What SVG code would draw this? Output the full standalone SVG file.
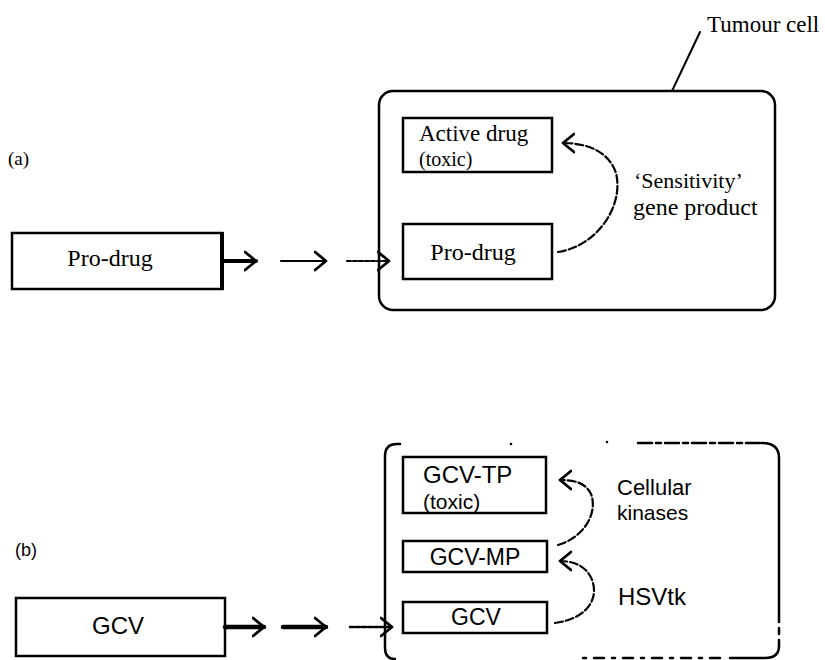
<svg xmlns="http://www.w3.org/2000/svg" width="825" height="660" viewBox="0 0 825 660">
<style>
.box{fill:none;stroke:#000;stroke-width:2.5}
.serif{font-family:"Liberation Serif","Times New Roman",serif;fill:#000}
.sans{font-family:"Liberation Sans",Arial,sans-serif;fill:#000}
.ln{fill:none;stroke:#000;stroke-linecap:round;stroke-linejoin:round}
</style>
<defs>
<marker id="chev" markerUnits="userSpaceOnUse" markerWidth="16" markerHeight="24" refX="12" refY="10" orient="auto" viewBox="0 0 16 20">
<path d="M1,1 L12,10 L1,19" fill="none" stroke="#000" stroke-width="2.8" stroke-linecap="round" stroke-linejoin="round"/>
</marker>
</defs>
<rect width="825" height="660" fill="#fff"/>

<!-- panel labels -->
<text id="label-a" class="serif" x="8" y="165" font-size="19">(a)</text>
<text id="label-b" class="sans" x="15" y="556" font-size="18">(b)</text>

<!-- Panel (a) -->
<g id="tumour-cell-a">
<rect class="box" x="379" y="91" width="396" height="219" rx="14"/>
</g>
<g id="tumour-cell-label">
<text class="serif" x="707" y="32" font-size="23">Tumour cell</text>
<path class="ln" stroke-width="2" d="M700,32 L672,91"/>
</g>
<g id="prodrug-outside">
<rect class="box" x="12" y="233" width="210" height="56"/>
<line x1="222" y1="232" x2="222" y2="290" stroke="#000" stroke-width="4"/>
<text class="serif" x="110" y="266" font-size="24" text-anchor="middle">Pro-drug</text>
</g>
<g id="active-drug">
<rect class="box" x="403" y="118" width="149" height="54"/>
<text class="serif" x="419" y="141" font-size="23">Active drug</text>
<text class="serif" x="419" y="166" font-size="20">(toxic)</text>
</g>
<g id="prodrug-inside">
<rect class="box" x="403" y="224" width="149" height="55"/>
<text class="serif" x="473" y="260" font-size="24" text-anchor="middle">Pro-drug</text>
</g>
<g id="sensitivity-label">
<text class="serif" x="634" y="188" font-size="22">‘Sensitivity’</text>
<text class="serif" x="633" y="215" font-size="24">gene product</text>
</g>

<!-- Panel (b) -->
<g id="tumour-cell-b">
<path class="ln" stroke-width="2.5" d="M400,444 L397,444 Q385,444 385,456 L385,648 Q385,659 395,659"/>
<circle cx="511" cy="444" r="1.3" fill="#000"/>
<circle cx="607" cy="442" r="1.3" fill="#000"/>
<path class="ln" stroke-width="2.5" stroke-dasharray="14 4 5 4" d="M638,443 L762,443"/>
<path class="ln" stroke-width="2.5" d="M762,443 Q779,443 779,458 L779,622"/>
<path class="ln" stroke-width="2.5" stroke-dasharray="6 6" d="M779,628 L779,646"/>
<path class="ln" stroke-width="2.5" d="M779,646 Q779,658 765,658 L730,658"/>
<path class="ln" stroke-width="2.5" stroke-dasharray="10 8 3 8" d="M720,658 L580,658"/>
</g>
<g id="gcv-outside">
<rect class="box" x="16" y="598" width="209" height="58"/>
<text class="sans" x="118" y="634" font-size="24" text-anchor="middle">GCV</text>
</g>
<g id="gcv-tp">
<rect class="box" x="403" y="457" width="143" height="56"/>
<text class="sans" x="423" y="483" font-size="24">GCV-TP</text>
<text class="sans" x="423" y="509" font-size="21">(toxic)</text>
</g>
<g id="gcv-mp">
<rect class="box" x="403" y="541" width="144" height="31"/>
<text class="sans" x="475" y="565" font-size="23" text-anchor="middle">GCV-MP</text>
</g>
<g id="gcv-inside">
<rect class="box" x="403" y="602" width="144" height="31"/>
<text class="sans" x="476" y="625" font-size="23" text-anchor="middle">GCV</text>
</g>
<g id="kinases-label">
<text class="sans" x="617" y="495" font-size="22">Cellular</text>
<text class="sans" x="617" y="520" font-size="21">kinases</text>
</g>
<g id="hsvtk-label">
<text class="sans" x="618" y="605" font-size="24">HSVtk</text>
</g>

<!-- connectors -->
<g id="connectors">
<line class="ln" x1="222" y1="261" x2="256" y2="261" stroke-width="4" marker-end="url(#chev)"/>
<line class="ln" x1="281" y1="261" x2="326" y2="261" stroke-width="2.2" marker-end="url(#chev)"/>
<line class="ln" x1="347" y1="261" x2="389" y2="261" stroke-width="2.2" stroke-dasharray="4 2" marker-end="url(#chev)"/>
<path class="ln" stroke-width="2.2" stroke-dasharray="8 3" d="M558,252 C598,246 624,205 616,173 C609,152 588,143 563,143" marker-end="url(#chev)"/>
<line class="ln" x1="225" y1="627" x2="264" y2="627" stroke-width="4.5" marker-end="url(#chev)"/>
<line class="ln" x1="283" y1="627" x2="326" y2="627" stroke-width="4.5" marker-end="url(#chev)"/>
<line class="ln" x1="350" y1="627" x2="392" y2="627" stroke-width="2.5" stroke-dasharray="4 2" marker-end="url(#chev)"/>
<path class="ln" stroke-width="2.2" stroke-dasharray="8 3" d="M558,545 C585,537 598,512 591,494 C585,482 573,480 560,480" marker-end="url(#chev)"/>
<path class="ln" stroke-width="2.2" stroke-dasharray="8 3" d="M555,623 C585,619 598,601 593,583 C589,568 576,561 560,561" marker-end="url(#chev)"/>
</g>
</svg>
